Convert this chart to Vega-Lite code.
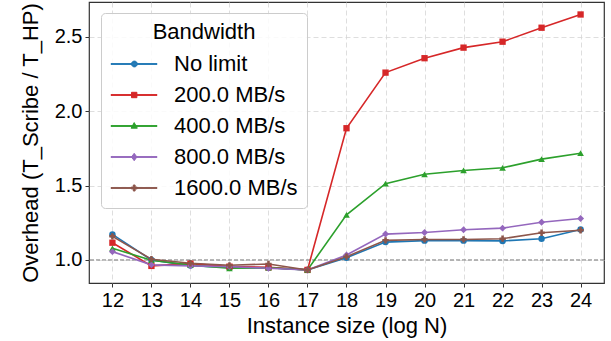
{
  "$schema": "https://vega.github.io/schema/vega-lite/v6.json",
  "width": 515,
  "height": 281,
  "autosize": {"type": "none"},
  "padding": {"left": 89, "top": 2, "right": 7, "bottom": 58},
  "config": {
    "font": "Liberation Sans",
    "view": {"stroke": "#333333", "strokeWidth": 1.2},
    "axis": {
      "domain": false,
      "grid": true,
      "gridColor": "#d6d6d6",
      "gridDash": [5, 3],
      "gridWidth": 0.8,
      "tickColor": "#333333",
      "tickSize": 4,
      "labelFontSize": 20,
      "labelColor": "#000000",
      "labelPadding": 3,
      "titleFontSize": 22,
      "titleFontWeight": "normal",
      "titleColor": "#000000"
    },
    "point": {"filled": true, "opacity": 1}
  },
  "datasets": {
    "overhead": [
      {"n": 12, "bw": "No limit", "v": 1.172},
      {"n": 13, "bw": "No limit", "v": 1.0},
      {"n": 14, "bw": "No limit", "v": 0.962},
      {"n": 15, "bw": "No limit", "v": 0.95},
      {"n": 16, "bw": "No limit", "v": 0.948},
      {"n": 17, "bw": "No limit", "v": 0.933},
      {"n": 18, "bw": "No limit", "v": 1.015},
      {"n": 19, "bw": "No limit", "v": 1.12},
      {"n": 20, "bw": "No limit", "v": 1.13},
      {"n": 21, "bw": "No limit", "v": 1.13},
      {"n": 22, "bw": "No limit", "v": 1.128},
      {"n": 23, "bw": "No limit", "v": 1.143},
      {"n": 24, "bw": "No limit", "v": 1.205},
      {"n": 12, "bw": "200.0 MB/s", "v": 1.116},
      {"n": 13, "bw": "200.0 MB/s", "v": 0.96},
      {"n": 14, "bw": "200.0 MB/s", "v": 0.975},
      {"n": 15, "bw": "200.0 MB/s", "v": 0.955},
      {"n": 16, "bw": "200.0 MB/s", "v": 0.95},
      {"n": 17, "bw": "200.0 MB/s", "v": 0.933},
      {"n": 18, "bw": "200.0 MB/s", "v": 1.886},
      {"n": 19, "bw": "200.0 MB/s", "v": 2.26},
      {"n": 20, "bw": "200.0 MB/s", "v": 2.357},
      {"n": 21, "bw": "200.0 MB/s", "v": 2.428},
      {"n": 22, "bw": "200.0 MB/s", "v": 2.468},
      {"n": 23, "bw": "200.0 MB/s", "v": 2.562},
      {"n": 24, "bw": "200.0 MB/s", "v": 2.651},
      {"n": 12, "bw": "400.0 MB/s", "v": 1.078},
      {"n": 13, "bw": "400.0 MB/s", "v": 0.998},
      {"n": 14, "bw": "400.0 MB/s", "v": 0.965},
      {"n": 15, "bw": "400.0 MB/s", "v": 0.944},
      {"n": 16, "bw": "400.0 MB/s", "v": 0.948},
      {"n": 17, "bw": "400.0 MB/s", "v": 0.933},
      {"n": 18, "bw": "400.0 MB/s", "v": 1.303},
      {"n": 19, "bw": "400.0 MB/s", "v": 1.513},
      {"n": 20, "bw": "400.0 MB/s", "v": 1.576},
      {"n": 21, "bw": "400.0 MB/s", "v": 1.602},
      {"n": 22, "bw": "400.0 MB/s", "v": 1.62},
      {"n": 23, "bw": "400.0 MB/s", "v": 1.678},
      {"n": 24, "bw": "400.0 MB/s", "v": 1.718},
      {"n": 12, "bw": "800.0 MB/s", "v": 1.056},
      {"n": 13, "bw": "800.0 MB/s", "v": 0.967},
      {"n": 14, "bw": "800.0 MB/s", "v": 0.96},
      {"n": 15, "bw": "800.0 MB/s", "v": 0.955},
      {"n": 16, "bw": "800.0 MB/s", "v": 0.944},
      {"n": 17, "bw": "800.0 MB/s", "v": 0.933},
      {"n": 18, "bw": "800.0 MB/s", "v": 1.033},
      {"n": 19, "bw": "800.0 MB/s", "v": 1.174},
      {"n": 20, "bw": "800.0 MB/s", "v": 1.185},
      {"n": 21, "bw": "800.0 MB/s", "v": 1.203},
      {"n": 22, "bw": "800.0 MB/s", "v": 1.214},
      {"n": 23, "bw": "800.0 MB/s", "v": 1.254},
      {"n": 24, "bw": "800.0 MB/s", "v": 1.279},
      {"n": 12, "bw": "1600.0 MB/s", "v": 1.159},
      {"n": 13, "bw": "1600.0 MB/s", "v": 1.005},
      {"n": 14, "bw": "1600.0 MB/s", "v": 0.978},
      {"n": 15, "bw": "1600.0 MB/s", "v": 0.964},
      {"n": 16, "bw": "1600.0 MB/s", "v": 0.973},
      {"n": 17, "bw": "1600.0 MB/s", "v": 0.933},
      {"n": 18, "bw": "1600.0 MB/s", "v": 1.022},
      {"n": 19, "bw": "1600.0 MB/s", "v": 1.132},
      {"n": 20, "bw": "1600.0 MB/s", "v": 1.138},
      {"n": 21, "bw": "1600.0 MB/s", "v": 1.138},
      {"n": 22, "bw": "1600.0 MB/s", "v": 1.143},
      {"n": 23, "bw": "1600.0 MB/s", "v": 1.183},
      {"n": 24, "bw": "1600.0 MB/s", "v": 1.2}
    ],
    "baseline": [{"ref": 1.0}]
  },
  "layer": [
    {
      "data": {"name": "baseline"},
      "mark": {"type": "rule", "color": "#7a7a7a", "strokeWidth": 1, "strokeDash": [4, 2]},
      "encoding": {
        "y": {"field": "ref", "type": "quantitative", "scale": {"domain": [0.845, 2.735], "nice": false, "zero": false}}
      }
    },
    {
      "data": {"name": "overhead"},
      "mark": {"type": "line", "strokeWidth": 1.6},
      "encoding": {
        "x": {
          "field": "n",
          "type": "quantitative",
          "scale": {"domain": [11.4, 24.6], "nice": false, "zero": false},
          "axis": {"values": [12, 13, 14, 15, 16, 17, 18, 19, 20, 21, 22, 23, 24], "format": "d", "title": "Instance size (log N)", "titlePadding": 5}
        },
        "y": {
          "field": "v",
          "type": "quantitative",
          "scale": {"domain": [0.845, 2.735], "nice": false, "zero": false},
          "axis": {"values": [1.0, 1.5, 2.0, 2.5], "format": ".1f", "title": "Overhead (T_Scribe / T_HP)", "titlePadding": 12}
        },
        "color": {
          "field": "bw",
          "type": "nominal",
          "scale": {
            "domain": ["No limit", "200.0 MB/s", "400.0 MB/s", "800.0 MB/s", "1600.0 MB/s"],
            "range": ["#1f77b4", "#d62728", "#2ca02c", "#9467bd", "#8c564b"]
          },
          "legend": {
            "title": "Bandwidth",
            "orient": "none",
            "legendX": 12,
            "legendY": 11,
            "direction": "vertical",
            "titleFontSize": 22,
            "titleFontWeight": "normal",
            "titleColor": "#000000",
            "titleAnchor": "middle",
            "titlePadding": 9,
            "labelFontSize": 22,
            "labelColor": "#000000",
            "labelOffset": 42,
            "rowPadding": 9,
            "symbolSize": 400,
            "padding": 9,
            "fillColor": "rgba(255,255,255,0.85)",
            "strokeColor": "#cccccc",
            "cornerRadius": 4,
            "encode": {
              "symbols": {
                "update": {
                  "shape": {"signal": "datum.value === 'No limit' ? 'M-1,-0.04H3.6V0.04H-1ZM1.05,0A0.29,0.29 0 1,0 1.63,0A0.29,0.29 0 1,0 1.05,0Z' : datum.value === '200.0 MB/s' ? 'M-1,-0.04H3.6V0.04H-1ZM1.05,-0.27H1.59V0.27H1.05Z' : datum.value === '400.0 MB/s' ? 'M-1,-0.04H3.6V0.04H-1ZM1.32,-0.34L1.63,0.22L1.01,0.22Z' : datum.value === '800.0 MB/s' ? 'M-1,-0.04H3.6V0.04H-1ZM1.32,-0.37L1.59,0L1.32,0.37L1.05,0Z' : 'M-1,-0.04H3.6V0.04H-1ZM1.23,-0.3H1.41V-0.09H1.62V0.09H1.41V0.3H1.23V0.09H1.02V-0.09H1.23Z'"},
                  "size": {"value": 400},
                  "fill": {"signal": "scale('color', datum.value)"},
                  "stroke": {"signal": "scale('color', datum.value)"},
                  "fillOpacity": {"value": 1},
                  "opacity": {"value": 1},
                  "strokeWidth": {"signal": "1"}
                }
              }
            }
          }
        }
      }
    },
    {
      "data": {"name": "overhead"},
      "transform": [{"filter": "datum.bw === 'No limit'"}],
      "mark": {"type": "point", "shape": "circle", "size": 42},
      "encoding": {
        "x": {"field": "n", "type": "quantitative"},
        "y": {"field": "v", "type": "quantitative"},
        "color": {"field": "bw", "type": "nominal"}
      }
    },
    {
      "data": {"name": "overhead"},
      "transform": [{"filter": "datum.bw === '200.0 MB/s'"}],
      "mark": {"type": "point", "shape": "square", "size": 40},
      "encoding": {
        "x": {"field": "n", "type": "quantitative"},
        "y": {"field": "v", "type": "quantitative"},
        "color": {"field": "bw", "type": "nominal"}
      }
    },
    {
      "data": {"name": "overhead"},
      "transform": [{"filter": "datum.bw === '400.0 MB/s'"}],
      "mark": {"type": "point", "shape": "triangle-up", "size": 44},
      "encoding": {
        "x": {"field": "n", "type": "quantitative"},
        "y": {"field": "v", "type": "quantitative"},
        "color": {"field": "bw", "type": "nominal"}
      }
    },
    {
      "data": {"name": "overhead"},
      "transform": [{"filter": "datum.bw === '800.0 MB/s'"}],
      "mark": {"type": "point", "shape": "diamond", "size": 48},
      "encoding": {
        "x": {"field": "n", "type": "quantitative"},
        "y": {"field": "v", "type": "quantitative"},
        "color": {"field": "bw", "type": "nominal"}
      }
    },
    {
      "data": {"name": "overhead"},
      "transform": [{"filter": "datum.bw === '1600.0 MB/s'"}],
      "mark": {"type": "point", "shape": "cross", "size": 40},
      "encoding": {
        "x": {"field": "n", "type": "quantitative"},
        "y": {"field": "v", "type": "quantitative"},
        "color": {"field": "bw", "type": "nominal"}
      }
    }
  ]
}
